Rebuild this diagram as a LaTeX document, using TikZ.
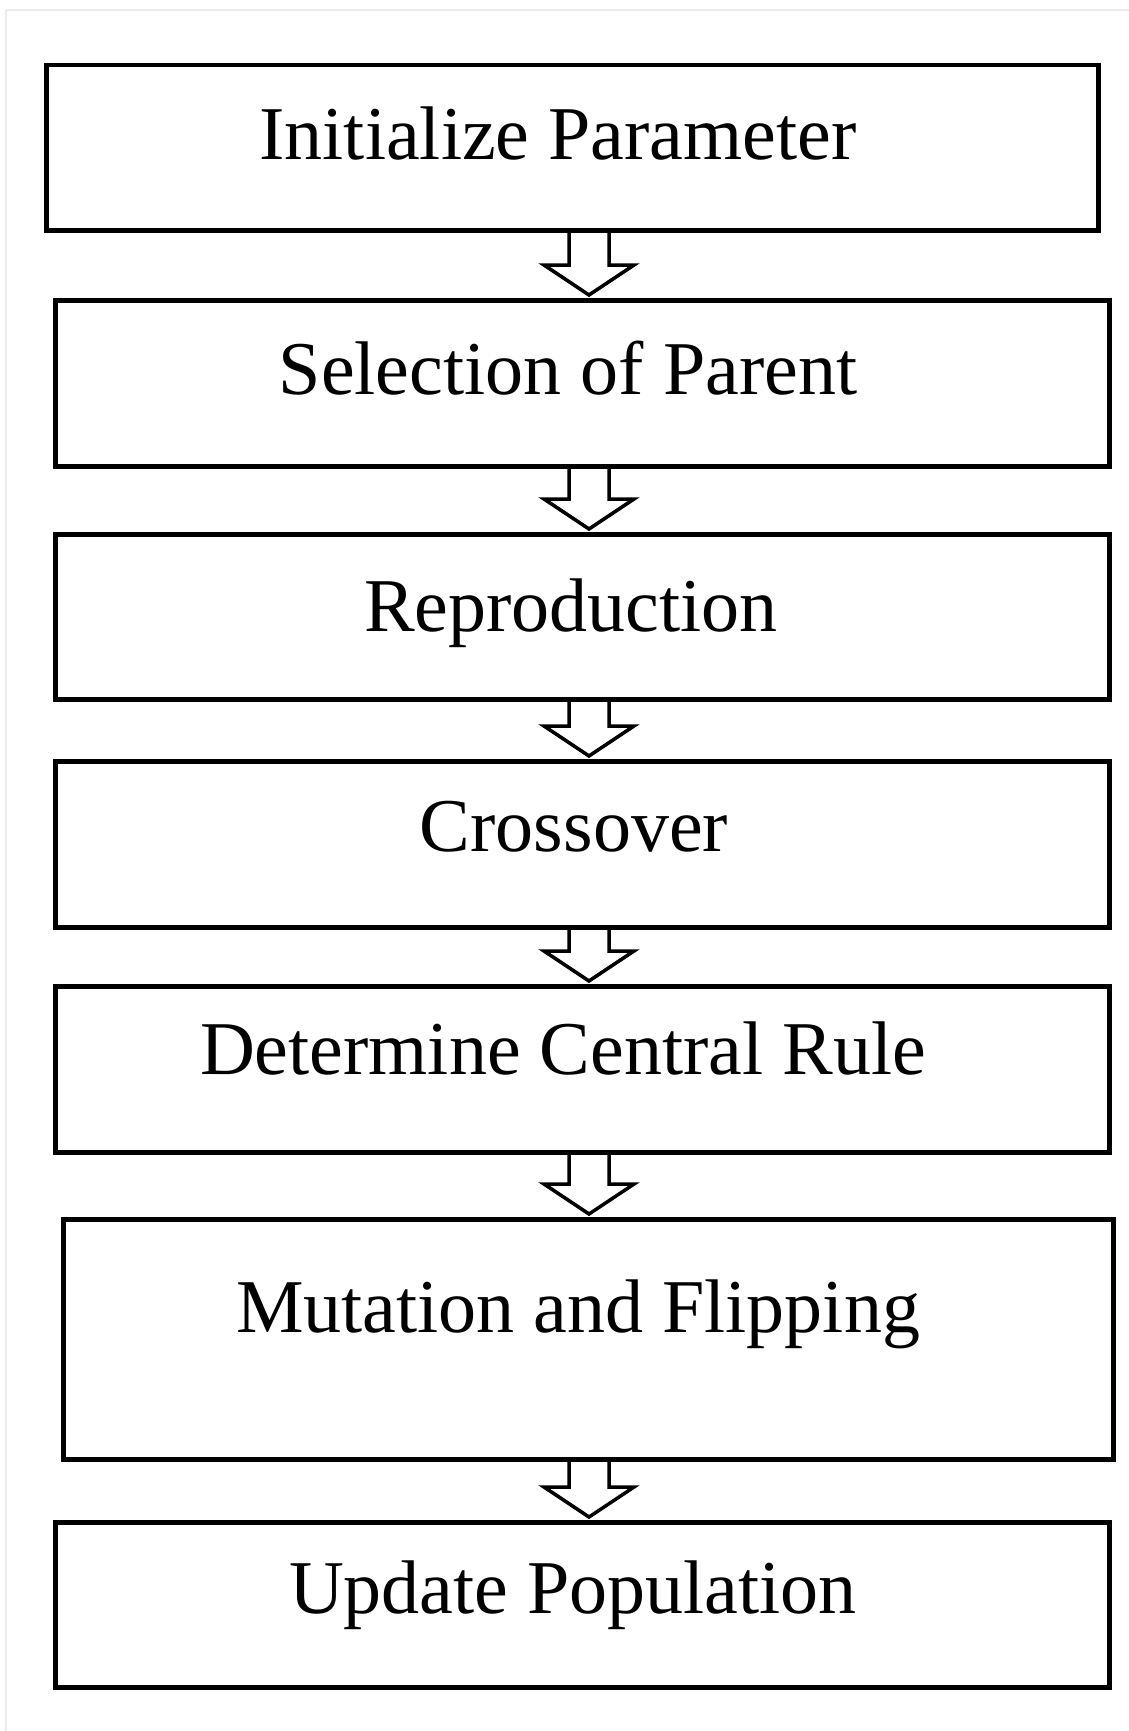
\documentclass[tikz,border=0pt]{standalone}
\usepackage{fontspec}
\setmainfont{Liberation Serif}
\usetikzlibrary{calc}
\begin{document}
\begin{tikzpicture}[x=1pt,y=-1pt,
  stepbox/.style={draw, line width=4.5pt, rectangle, inner sep=0pt, anchor=north west},
  lbl/.style={anchor=base, inner sep=0pt, font=\fontsize{76}{80}\selectfont},
  blockarrow/.style={draw, line width=3.5pt, line join=miter}]
\useasboundingbox (0,0) rectangle (1129,1731);
\fill[white] (0,0) rectangle (1129,1731);
\draw[black!8, line width=2pt] (6,10) -- (1129,10) (6,10) -- (6,1731);
\coordinate (ax) at (589,0);
\node[stepbox, minimum width=1052pt, minimum height=165pt] (b1) at (44,63) {};
\node[stepbox, minimum width=1054pt, minimum height=166pt] (b2) at (53,298) {};
\node[stepbox, minimum width=1054pt, minimum height=165pt] (b3) at (53,532) {};
\node[stepbox, minimum width=1054pt, minimum height=166pt] (b4) at (53,759) {};
\node[stepbox, minimum width=1054pt, minimum height=166pt] (b5) at (53,984) {};
\node[stepbox, minimum width=1050pt, minimum height=240pt] (b6) at (61,1217) {};
\node[stepbox, minimum width=1054pt, minimum height=165pt] (b7) at (53,1520) {};
\node[lbl] (t1) at (558,160) {Initialize Parameter};
\node[lbl] (t2) at (568,394) {Selection of Parent};
\node[lbl] (t3) at (571,631) {Reproduction};
\node[lbl] (t4) at (574,851) {Crossover};
\node[lbl] (t5) at (563,1074) {Determine Central Rule};
\node[lbl] (t6) at (578,1332) {Mutation and Flipping};
\node[lbl] (t7) at (573,1613) {Update Population};
\foreach \a/\b in {b1/b2,b2/b3,b3/b4,b4/b5,b5/b6,b6/b7} {
  \draw[blockarrow] let \p1=($(\a.south -| ax)$), \p2=($(\b.north -| ax)$) in
    (\x1-20pt,\y1) -- (\x1-20pt,\y2+33pt) -- (\x1-45pt,\y2+33pt) -- (\x1,\y2+3pt)
    -- (\x1+45pt,\y2+33pt) -- (\x1+20pt,\y2+33pt) -- (\x1+20pt,\y1);
}
\end{tikzpicture}
\end{document}
